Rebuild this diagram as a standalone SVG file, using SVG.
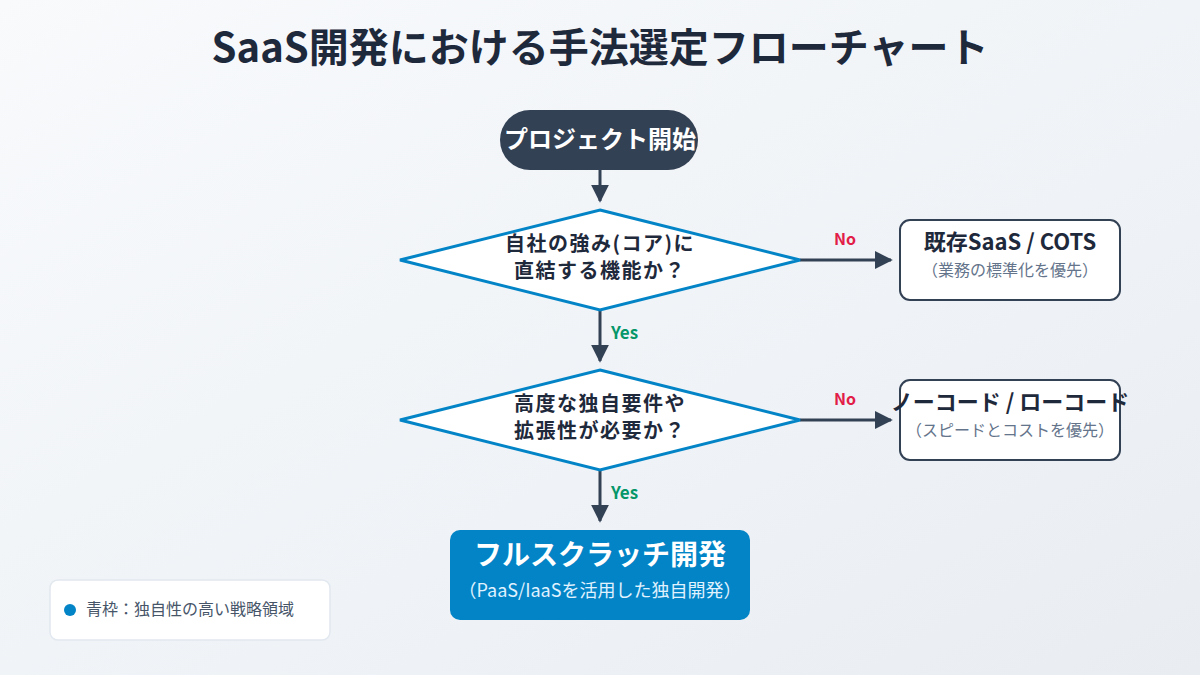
<svg xmlns="http://www.w3.org/2000/svg" width="1200" height="675" viewBox="0 0 1200 675">
<defs>
<linearGradient id="bg" x1="0" y1="0" x2="1" y2="1">
<stop offset="0" stop-color="#f8fafc"/>
<stop offset="1" stop-color="#e9edf2"/>
</linearGradient>
<marker id="arr" viewBox="0 0 10 10" refX="9" refY="5" markerWidth="6" markerHeight="6" markerUnits="strokeWidth" orient="auto">
<path d="M0,0 L10,5 L0,10 z" fill="#334155"/>
</marker>
<style>
text{font-family:"Noto Sans CJK JP","Noto Sans",sans-serif;text-anchor:middle}
.title{font-size:40px;font-weight:700;fill:#1e293b}
.dia{fill:#fff;stroke:#0284c7;stroke-width:3}
.dt{font-size:20px;font-weight:700;fill:#1e293b;letter-spacing:1.5px}
.box{fill:#fff;stroke:#334155;stroke-width:2}
.bt{font-size:22px;font-weight:700;fill:#1e293b}
.bs{font-size:16px;fill:#64748b}
.conn{stroke:#334155;stroke-width:3;fill:none;marker-end:url(#arr)}
.no{font-size:16px;font-weight:700;fill:#e11d48}
.yes{font-size:17px;font-weight:700;fill:#059669;text-anchor:start}
</style>
</defs>
<rect width="1200" height="675" fill="url(#bg)"/>
<text class="title" x="600" y="62">SaaS開発における手法選定フローチャート</text>

<g id="connectors">
<line class="conn" x1="600" y1="170" x2="600" y2="201"/>
<line class="conn" x1="800" y1="260" x2="891" y2="260"/>
<text class="no" x="845" y="245">No</text>
<line class="conn" x1="600" y1="310" x2="600" y2="361"/>
<text class="yes" x="611" y="339">Yes</text>
<line class="conn" x1="800" y1="420" x2="891" y2="420"/>
<text class="no" x="845" y="405">No</text>
<line class="conn" x1="600" y1="470" x2="600" y2="521"/>
<text class="yes" x="611" y="499">Yes</text>
</g>

<g id="start">
<rect x="500" y="110" width="198" height="60" rx="30" fill="#334155"/>
<text x="600" y="148" font-size="24" font-weight="700" fill="#fff">プロジェクト開始</text>
</g>

<g id="q1">
<polygon class="dia" points="600,210 800,260 600,310 400,260"/>
<text class="dt"><tspan x="600" y="251">自社の強み(コア)に</tspan><tspan x="600" y="278">直結する機能か？</tspan></text>
</g>

<g id="cots">
<rect class="box" x="900" y="220" width="220" height="80" rx="10"/>
<text class="bt" x="1010" y="250">既存SaaS / COTS</text>
<text class="bs" x="1010" y="276">（業務の標準化を優先）</text>
</g>

<g id="q2">
<polygon class="dia" points="600,370 800,420 600,470 400,420"/>
<text class="dt"><tspan x="600" y="411">高度な独自要件や</tspan><tspan x="600" y="438">拡張性が必要か？</tspan></text>
</g>

<g id="nocode">
<rect class="box" x="900" y="380" width="220" height="80" rx="10"/>
<text class="bt" x="1010" y="410">ノーコード / ローコード</text>
<text class="bs" x="1010" y="436">（スピードとコストを優先）</text>
</g>

<g id="full">
<rect x="450" y="530" width="300" height="90" rx="10" fill="#0284c7"/>
<text x="600" y="565" font-size="28" font-weight="700" fill="#fff">フルスクラッチ開発</text>
<text x="600" y="597" font-size="18" fill="#e0f2fe">（PaaS/IaaSを活用した独自開発）</text>
</g>

<g id="legend">
<rect x="50" y="580" width="280" height="60" rx="8" fill="#fff" stroke="#e2e8f0" stroke-width="1.5"/>
<circle cx="70" cy="610" r="6" fill="#0284c7"/>
<text x="86" y="615" font-size="16" fill="#475569" style="text-anchor:start">青枠：独自性の高い戦略領域</text>
</g>
</svg>
